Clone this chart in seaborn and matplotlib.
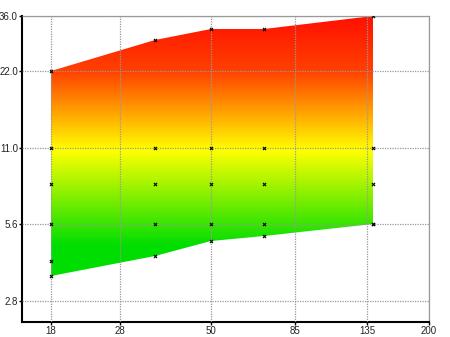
import numpy as np
import pandas as pd
import matplotlib
matplotlib.use("Agg")
import matplotlib.pyplot as plt
import seaborn as sns
from matplotlib.colors import LinearSegmentedColormap, Normalize

# Band boundaries at each sampled x
x_vals = [18, 35, 50, 70, 140]
lower = [3.5, 4.2, 4.8, 5.0, 5.6]
upper = [22, 29, 32, 32, 36]
# Reference levels marked at every sampled x
levels = [5.6, 8.0, 11.0]
# Additional single marks
extra_x = [18]
extra_y = [4.0]

x_ticks = [18, 28, 50, 85, 135, 200]
x_labels = ["18", "28", "50", "85", "135", "200"]
y_ticks = [2.8, 5.6, 11.0, 22.0, 36.0]
y_labels = ["2.8", "5.6", "11.0", "22.0", "36.0"]

sns.set_theme(style="white")
plt.rcParams["font.family"] = ["Liberation Sans", "DejaVu Sans"]

# Marker table
pts_x, pts_y = [], []
for i, xv in enumerate(x_vals):
    for yv in [lower[i]] + levels + [upper[i]]:
        pts_x.append(xv)
        pts_y.append(yv)
pts_x += extra_x
pts_y += extra_y
marks = pd.DataFrame({"x": pts_x, "y": pts_y})

fig = plt.figure(figsize=(4.5, 3.37), dpi=100)
ax = fig.add_axes([22 / 450, 1 - 322 / 337, (429 - 22) / 450, (322 - 16) / 337])
ax.set_xscale("log")
ax.set_yscale("log")
x_min, x_max = 15, 200
y_min, y_max = 2.32, 36
ax.set_xlim(x_min, x_max)
ax.set_ylim(y_min, y_max)

# Band outline used as clip path for the vertical gradient
band = ax.fill_between(x_vals, lower, upper, facecolor="none", edgecolor="none", lw=0)

cmap = LinearSegmentedColormap.from_list(
    "heat",
    [(0.0, "#00dd00"), (0.415, "#ffff00"), (0.52, "#ffc400"),
     (0.76, "#ff4000"), (1.0, "#ff1000")],
)
gx = np.array([x_min, x_max])
gy = np.geomspace(y_min, y_max, 400)
cval = np.log(np.sqrt(gy[:-1] * gy[1:]))[:, None]
mesh = ax.pcolormesh(gx, gy, cval, cmap=cmap,
                     norm=Normalize(np.log(4.6), np.log(36)),
                     shading="flat", zorder=1, antialiased=False)
mesh.set_clip_path(band.get_paths()[0], ax.transData)

sns.scatterplot(data=marks, x="x", y="y", marker="x", color="black",
                s=5, linewidth=0.8, ax=ax, zorder=4, legend=False)

ax.set_xlabel("")
ax.set_ylabel("")
ax.set_xticks(x_ticks)
ax.set_xticklabels(x_labels)
ax.set_yticks(y_ticks)
ax.set_yticklabels(y_labels)
ax.minorticks_off()

ax.set_axisbelow(False)
ax.grid(True, which="major", color="#999999", linestyle=(0, (1, 1)), linewidth=0.9)

ax.tick_params(axis="both", which="major", bottom=True, left=True,
               length=2.5, width=1, color="black", pad=0.5,
               labelsize=7, labelcolor="#222222", direction="out")

for side in ["left", "bottom"]:
    ax.spines[side].set_color("black")
    ax.spines[side].set_linewidth(1.5)
for side in ["top", "right"]:
    ax.spines[side].set_color("#999999")
    ax.spines[side].set_linestyle((0, (1, 1)))
    ax.spines[side].set_linewidth(0.9)

fig.savefig("out.png", dpi=100)
